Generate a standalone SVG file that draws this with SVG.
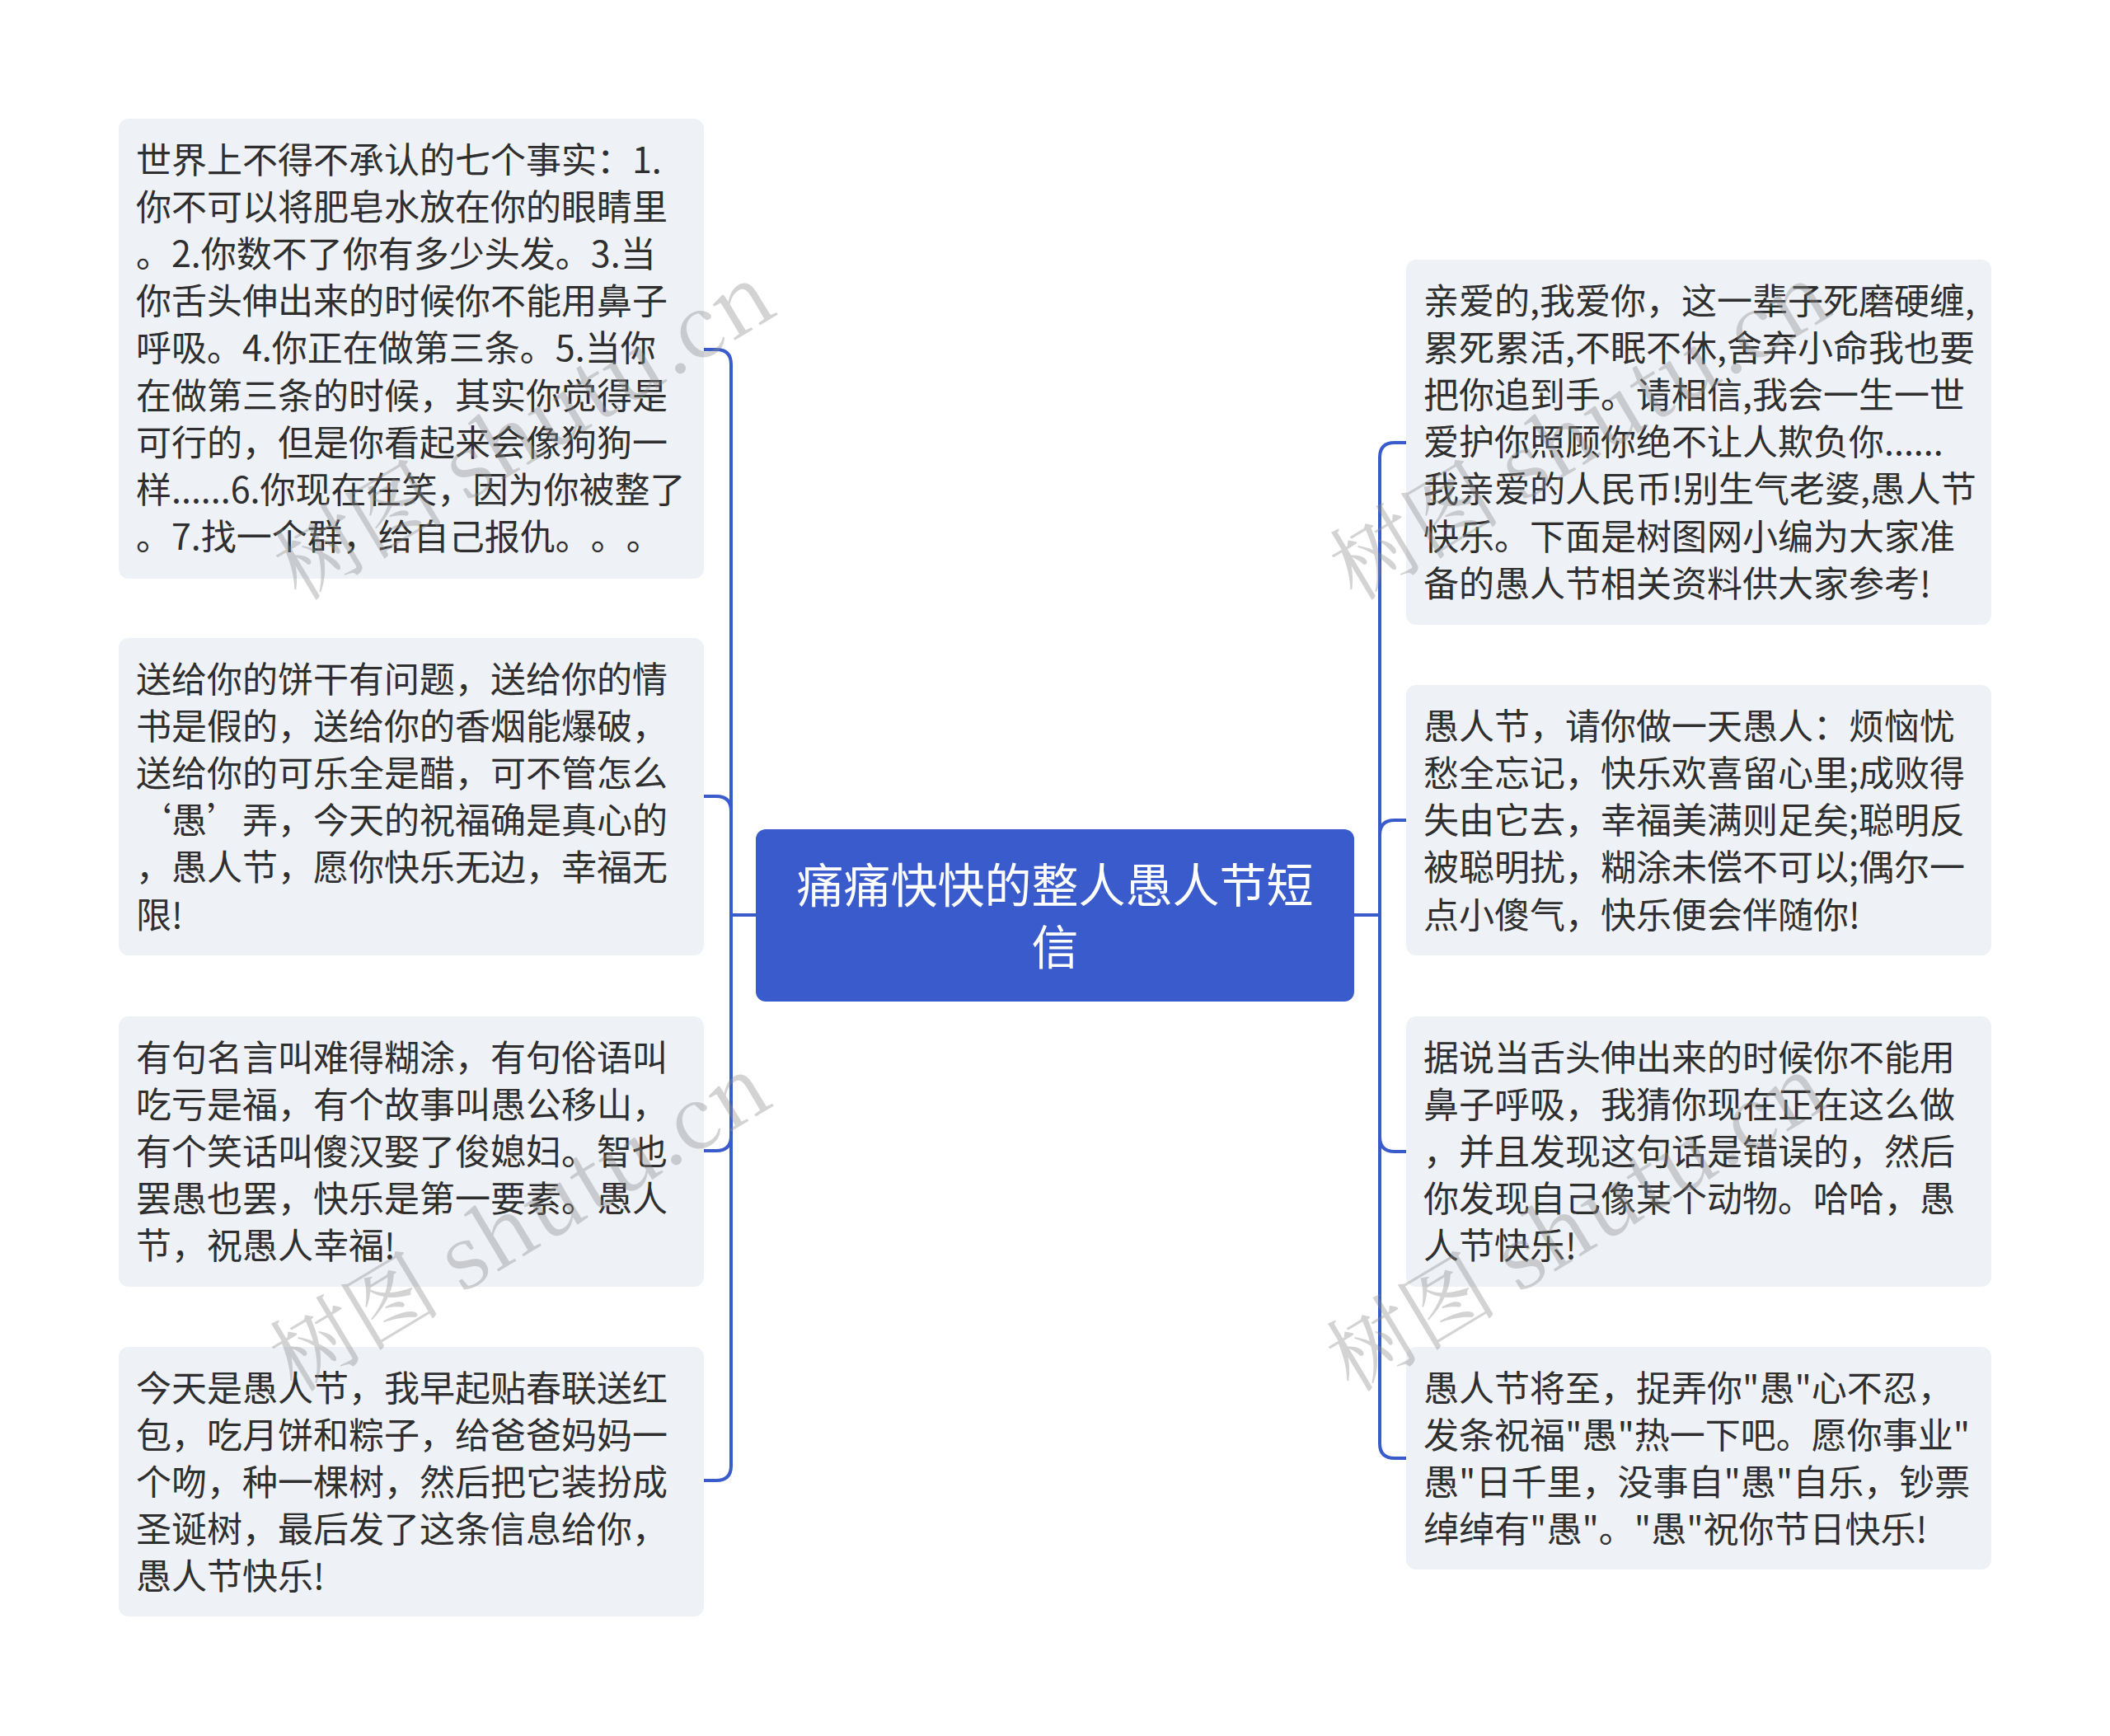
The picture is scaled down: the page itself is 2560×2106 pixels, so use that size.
<svg xmlns="http://www.w3.org/2000/svg" width="2560" height="2106" viewBox="0 0 2560 2106">
<style>
.bg{fill:#ffffff}
.card{fill:#eef1f5}
.t{font-family:"Noto Sans CJK SC","Noto Sans",sans-serif;font-size:43px;fill:#2f2f2f;text-spacing-trim:space-all;font-feature-settings:"chws" 0,"halt" 0}
.ct{font-family:"Noto Sans CJK SC","Noto Sans",sans-serif;font-size:57px;fill:#ffffff;text-anchor:middle}
.ln{fill:none;stroke:#3a5bcc;stroke-width:4}
.wm{font-family:"Noto Serif CJK SC","Liberation Serif","Noto Sans CJK SC",serif;font-size:104px;fill:#8c8c8c;fill-opacity:0.38}
</style>
<rect class="bg" x="0" y="0" width="2560" height="2106"/>
<g id="connectors">
<path class="ln" d="M918 1110 H887 V442 Q887 424 869 424 H854"/>
<path class="ln" d="M887 1110 V984 Q887 966 869 966 H854"/>
<path class="ln" d="M887 1110 V1378 Q887 1396 869 1396 H854"/>
<path class="ln" d="M887 1110 V1778 Q887 1796 869 1796 H854"/>
<path class="ln" d="M1643 1110 H1674 V555 Q1674 537 1692 537 H1706"/>
<path class="ln" d="M1674 1110 V1013 Q1674 995 1692 995 H1706"/>
<path class="ln" d="M1674 1110 V1379 Q1674 1397 1692 1397 H1706"/>
<path class="ln" d="M1674 1110 V1751 Q1674 1769 1692 1769 H1706"/>
</g>
<g id="center">
<rect x="917" y="1006" width="726" height="209" rx="12" fill="#3a5bcc"/>
<text class="ct" x="1280" y="1095">痛痛快快的整人愚人节短</text>
<text class="ct" x="1280" y="1170">信</text>
</g>
<g id="left1">
<rect class="card" x="144" y="144" width="710" height="558" rx="12"/>
<text class="t">
<tspan x="165" y="210">世界上不得不承认的七个事实：1.</tspan>
<tspan x="165" y="267">你不可以将肥皂水放在你的眼睛里</tspan>
<tspan x="165" y="324">。2.你数不了你有多少头发。3.当</tspan>
<tspan x="165" y="381">你舌头伸出来的时候你不能用鼻子</tspan>
<tspan x="165" y="438">呼吸。4.你正在做第三条。5.当你</tspan>
<tspan x="165" y="496">在做第三条的时候，其实你觉得是</tspan>
<tspan x="165" y="553">可行的，但是你看起来会像狗狗一</tspan>
<tspan x="165" y="610">样......6.你现在在笑，因为你被整了</tspan>
<tspan x="165" y="667">。7.找一个群，给自己报仇。。。</tspan>
</text>
</g>
<g id="left2">
<rect class="card" x="144" y="774" width="710" height="385" rx="12"/>
<text class="t">
<tspan x="165" y="840">送给你的饼干有问题，送给你的情</tspan>
<tspan x="165" y="897">书是假的，送给你的香烟能爆破，</tspan>
<tspan x="165" y="954">送给你的可乐全是醋，可不管怎么</tspan>
<tspan x="165" y="1011">‘愚’弄，今天的祝福确是真心的</tspan>
<tspan x="165" y="1068">，愚人节，愿你快乐无边，幸福无</tspan>
<tspan x="165" y="1126">限!</tspan>
</text>
</g>
<g id="left3">
<rect class="card" x="144" y="1233" width="710" height="328" rx="12"/>
<text class="t">
<tspan x="165" y="1299">有句名言叫难得糊涂，有句俗语叫</tspan>
<tspan x="165" y="1356">吃亏是福，有个故事叫愚公移山，</tspan>
<tspan x="165" y="1413">有个笑话叫傻汉娶了俊媳妇。智也</tspan>
<tspan x="165" y="1470">罢愚也罢，快乐是第一要素。愚人</tspan>
<tspan x="165" y="1527">节，祝愚人幸福!</tspan>
</text>
</g>
<g id="left4">
<rect class="card" x="144" y="1634" width="710" height="327" rx="12"/>
<text class="t">
<tspan x="165" y="1700">今天是愚人节，我早起贴春联送红</tspan>
<tspan x="165" y="1757">包，吃月饼和粽子，给爸爸妈妈一</tspan>
<tspan x="165" y="1814">个吻，种一棵树，然后把它装扮成</tspan>
<tspan x="165" y="1871">圣诞树，最后发了这条信息给你，</tspan>
<tspan x="165" y="1928">愚人节快乐!</tspan>
</text>
</g>
<g id="right1">
<rect class="card" x="1706" y="315" width="710" height="443" rx="12"/>
<text class="t">
<tspan x="1727" y="381">亲爱的,我爱你，这一辈子死磨硬缠,</tspan>
<tspan x="1727" y="438">累死累活,不眠不休,舍弃小命我也要</tspan>
<tspan x="1727" y="495">把你追到手。请相信,我会一生一世</tspan>
<tspan x="1727" y="552">爱护你照顾你绝不让人欺负你......</tspan>
<tspan x="1727" y="609">我亲爱的人民币!别生气老婆,愚人节</tspan>
<tspan x="1727" y="667">快乐。下面是树图网小编为大家准</tspan>
<tspan x="1727" y="724">备的愚人节相关资料供大家参考!</tspan>
</text>
</g>
<g id="right2">
<rect class="card" x="1706" y="831" width="710" height="328" rx="12"/>
<text class="t">
<tspan x="1727" y="897">愚人节，请你做一天愚人：烦恼忧</tspan>
<tspan x="1727" y="954">愁全忘记，快乐欢喜留心里;成败得</tspan>
<tspan x="1727" y="1011">失由它去，幸福美满则足矣;聪明反</tspan>
<tspan x="1727" y="1068">被聪明扰，糊涂未偿不可以;偶尔一</tspan>
<tspan x="1727" y="1126">点小傻气，快乐便会伴随你!</tspan>
</text>
</g>
<g id="right3">
<rect class="card" x="1706" y="1233" width="710" height="328" rx="12"/>
<text class="t">
<tspan x="1727" y="1299">据说当舌头伸出来的时候你不能用</tspan>
<tspan x="1727" y="1356">鼻子呼吸，我猜你现在正在这么做</tspan>
<tspan x="1727" y="1413">，并且发现这句话是错误的，然后</tspan>
<tspan x="1727" y="1470">你发现自己像某个动物。哈哈，愚</tspan>
<tspan x="1727" y="1527">人节快乐!</tspan>
</text>
</g>
<g id="right4">
<rect class="card" x="1706" y="1634" width="710" height="270" rx="12"/>
<text class="t">
<tspan x="1727" y="1700">愚人节将至，捉弄你"愚"心不忍，</tspan>
<tspan x="1727" y="1757">发条祝福"愚"热一下吧。愿你事业"</tspan>
<tspan x="1727" y="1814">愚"日千里，没事自"愚"自乐，钞票</tspan>
<tspan x="1727" y="1871">绰绰有"愚"。"愚"祝你节日快乐!</tspan>
</text>
</g>
<g id="watermarks">
<text class="wm" text-anchor="middle" transform="translate(655 555) rotate(-31)">树图 shutu.cn</text>
<text class="wm" text-anchor="middle" transform="translate(1936 555) rotate(-31)">树图 shutu.cn</text>
<text class="wm" text-anchor="middle" transform="translate(650 1515) rotate(-31)">树图 shutu.cn</text>
<text class="wm" text-anchor="middle" transform="translate(1932 1515) rotate(-31)">树图 shutu.cn</text>
</g>
</svg>
